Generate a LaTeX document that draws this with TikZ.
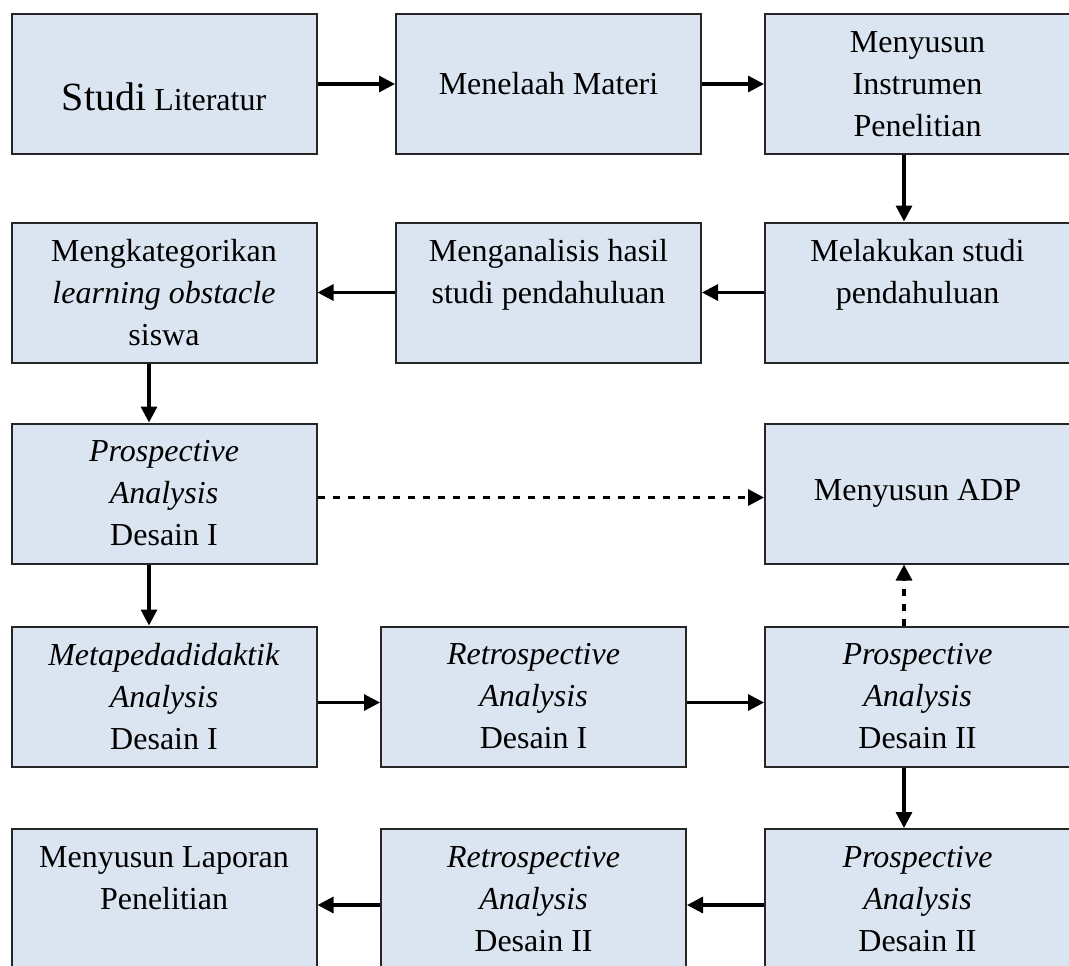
\documentclass[tikz,border=0pt]{standalone}
\usepackage{fontspec}
\setmainfont{Liberation Serif}
\usetikzlibrary{arrows.meta}
\definecolor{boxblue}{HTML}{DBE5F1}

\begin{document}
\begin{tikzpicture}[x=0.5pt,y=-0.5pt,
  box/.style={draw=black!85,line width=1pt,fill=boxblue,minimum width=152.5pt,minimum height=70pt,
    inner sep=0pt,align=center,font=\fontsize{16}{21}\selectfont},
  arr/.style={line width=1.6pt,-{Triangle[length=8pt,width=8pt]}},
  dasharr/.style={arr,dash pattern=on 3.5pt off 4pt}]
\useasboundingbox (0,0) rectangle (1069,965);

\node[box,text height=26pt,text depth=0pt] (studi) at (164,84) {{\fontsize{20}{24}\selectfont Studi} Literatur};
\node[box] (materi) at (548.5,84) {Menelaah Materi};
\node[box] (instrumen) at (917.5,84) {Menyusun\\Instrumen\\Penelitian};

\node[box] (pendahuluan) at (917.5,292.5) {Melakukan studi\\pendahuluan\\\mbox{}};
\node[box] (analisis) at (548.5,292.5) {Menganalisis hasil\\studi pendahuluan\\\mbox{}};
\node[box] (kategori) at (164,292.5) {Mengkategorikan\\\textit{learning obstacle}\\siswa};

\node[box] (prosI) at (164,493.5) {\textit{Prospective}\\\textit{Analysis}\\Desain I};
\node[box] (adp) at (917.5,493.5) {Menyusun ADP};

\node[box] (metaI) at (164,696.5) {\textit{Metapedadidaktik}\\\textit{Analysis}\\Desain I};
\node[box] (retroI) at (533.5,696.5) {\textit{Retrospective}\\\textit{Analysis}\\Desain I};
\node[box] (prosII) at (917.5,696.5) {\textit{Prospective}\\\textit{Analysis}\\Desain II};

\node[box] (prosIIb) at (917.5,899) {\textit{Prospective}\\\textit{Analysis}\\Desain II};
\node[box] (retroII) at (533.5,899) {\textit{Retrospective}\\\textit{Analysis}\\Desain II};
\node[box] (laporan) at (164,899) {Menyusun Laporan\\Penelitian\\\mbox{}};

% alur
\draw[arr] (studi) -- (materi);
\draw[arr] (materi) -- (instrumen);
\draw[arr] ([xshift=-6.75pt]instrumen.south) -- ([xshift=-6.75pt]pendahuluan.north);
\draw[arr] (pendahuluan) -- (analisis);
\draw[arr] (analisis) -- (kategori);
\draw[arr] ([xshift=-7.5pt]kategori.south) -- ([xshift=-7.5pt]prosI.north);
\draw[dasharr] ([yshift=-2pt]prosI.east) -- ([yshift=-2pt]adp.west);
\draw[arr] ([xshift=-7.5pt]prosI.south) -- ([xshift=-7.5pt]metaI.north);
\draw[arr] ([yshift=-3pt]metaI.east) -- ([yshift=-3pt]retroI.west);
\draw[arr] ([yshift=-3pt]retroI.east) -- ([yshift=-3pt]prosII.west);
\draw[dasharr] ([xshift=-6.75pt]prosII.north) -- ([xshift=-6.75pt]adp.south);
\draw[arr] ([xshift=-6.75pt]prosII.south) -- ([xshift=-6.75pt]prosIIb.north);
\draw[arr] ([yshift=-3pt]prosIIb.west) -- ([yshift=-3pt]retroII.east);
\draw[arr] ([yshift=-3pt]retroII.west) -- ([yshift=-3pt]laporan.east);

\end{tikzpicture}
\end{document}
